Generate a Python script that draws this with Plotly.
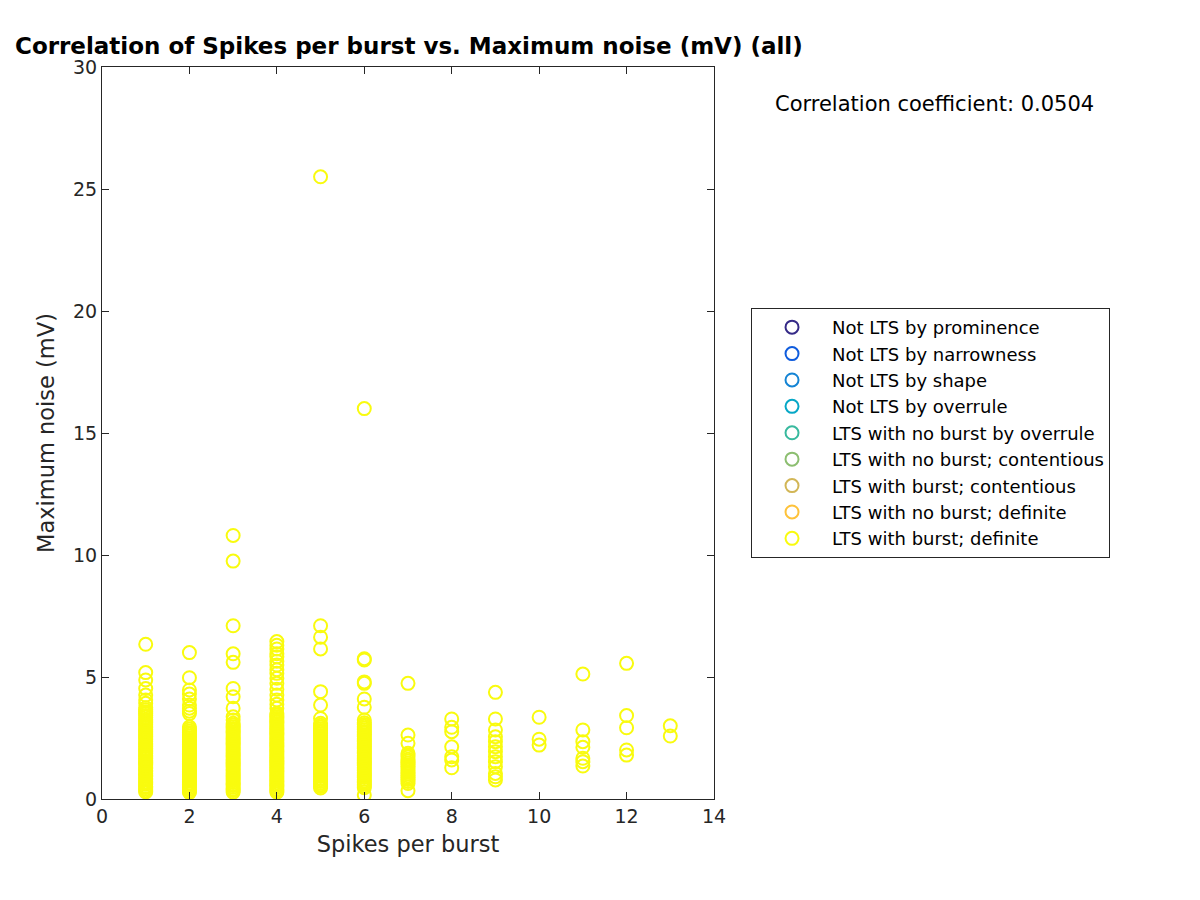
import plotly.graph_objects as go

# max noise (mV) for each spikes-per-burst value
noise_1 = [0.29, 0.34, 0.41, 0.47, 0.52, 0.6, 0.66, 0.71, 0.79, 0.85, 0.92, 0.98, 1.05, 1.12, 1.18,
           1.26, 1.31, 1.39, 1.45, 1.52, 1.58, 1.66, 1.73, 1.79, 1.86, 1.94, 2.01, 2.07, 2.15, 2.22,
           2.28, 2.36, 2.43, 2.5, 2.56, 2.63, 2.71, 2.78, 2.84, 2.92, 2.99, 3.06, 3.13, 3.2, 3.27,
           3.35, 3.42, 3.5, 3.58, 3.66, 3.74, 3.92, 4.06, 4.26, 4.53, 4.88, 5.18, 6.34]
noise_2 = [0.27, 0.33, 0.4, 0.46, 0.53, 0.59, 0.66, 0.73, 0.8, 0.86, 0.93, 1.0, 1.07, 1.13, 1.2,
           1.27, 1.34, 1.41, 1.47, 1.54, 1.61, 1.68, 1.75, 1.82, 1.88, 1.95, 2.02, 2.09, 2.16, 2.23,
           2.3, 2.37, 2.44, 2.51, 2.58, 2.65, 2.72, 2.79, 2.87, 2.95, 3.5, 3.6, 3.72, 3.85, 4.1,
           4.3, 4.47, 4.97, 6.0]
noise_3 = [0.28, 0.35, 0.41, 0.48, 0.55, 0.61, 0.68, 0.75, 0.82, 0.88, 0.95, 1.02, 1.09, 1.16, 1.22,
           1.29, 1.36, 1.43, 1.5, 1.57, 1.63, 1.7, 1.77, 1.84, 1.91, 1.98, 2.05, 2.12, 2.19, 2.26,
           2.33, 2.4, 2.47, 2.54, 2.61, 2.68, 2.75, 2.82, 2.89, 2.96, 3.03, 3.1, 3.24, 3.37, 3.72,
           4.19, 4.53, 5.6, 5.95, 7.1, 9.75, 10.8]
noise_4 = [0.28, 0.34, 0.4, 0.47, 0.54, 0.6, 0.67, 0.74, 0.81, 0.87, 0.94, 1.01, 1.08, 1.15, 1.21,
           1.28, 1.35, 1.42, 1.49, 1.56, 1.62, 1.69, 1.76, 1.83, 1.9, 1.97, 2.04, 2.11, 2.18, 2.25,
           2.32, 2.39, 2.46, 2.53, 2.6, 2.67, 2.74, 2.81, 2.88, 2.95, 3.02, 3.09, 3.16, 3.23, 3.3,
           3.37, 3.44, 3.51, 3.72, 3.88, 4.06, 4.26, 4.5, 4.74, 4.95, 5.15, 5.3, 5.49, 5.65, 5.83,
           5.95, 6.15, 6.3, 6.45]
noise_5 = [0.45, 0.51, 0.58, 0.65, 0.72, 0.79, 0.85, 0.92, 0.99, 1.06, 1.13, 1.2, 1.27, 1.34, 1.41,
           1.48, 1.55, 1.62, 1.69, 1.76, 1.83, 1.9, 1.97, 2.04, 2.11, 2.18, 2.25, 2.32, 2.39, 2.46,
           2.53, 2.6, 2.67, 2.74, 2.81, 2.88, 2.95, 3.02, 3.1, 3.3, 3.85, 4.4, 6.15, 6.63, 7.1, 25.5]
noise_6 = [0.16, 0.46, 0.53, 0.6, 0.67, 0.74, 0.81, 0.88, 0.95, 1.02, 1.09, 1.16, 1.23, 1.3, 1.37,
           1.44, 1.51, 1.58, 1.65, 1.72, 1.79, 1.86, 1.93, 2.0, 2.07, 2.14, 2.21, 2.28, 2.35, 2.42,
           2.49, 2.56, 2.63, 2.7, 2.77, 2.84, 2.91, 2.98, 3.05, 3.12, 3.24, 3.76, 4.1, 4.74, 4.8,
           5.7, 5.75, 16.0]
noise_7 = [0.34, 0.64, 0.72, 0.8, 0.88, 0.95, 1.03, 1.1, 1.18, 1.25, 1.33, 1.4, 1.48, 1.56, 1.63,
           1.72, 1.8, 1.87, 2.28, 2.62, 4.74]
noise_8 = [1.28, 1.6, 1.73, 2.14, 2.76, 2.94, 3.28]
noise_9 = [0.78, 0.91, 1.05, 1.32, 1.53, 1.73, 1.94, 2.14, 2.35, 2.55, 2.83, 3.28, 4.37]
noise_10 = [2.21, 2.45, 3.35]
noise_11 = [1.35, 1.53, 1.67, 2.12, 2.35, 2.83, 5.12]
noise_12 = [1.8, 2.01, 2.92, 3.42, 5.56]
noise_13 = [2.58, 3.0]

noise_by_spikes = [noise_1, noise_2, noise_3, noise_4, noise_5, noise_6, noise_7,
                   noise_8, noise_9, noise_10, noise_11, noise_12, noise_13]

classes = ["Not LTS by prominence", "Not LTS by narrowness", "Not LTS by shape",
           "Not LTS by overrule", "LTS with no burst by overrule",
           "LTS with no burst; contentious", "LTS with burst; contentious",
           "LTS with no burst; definite", "LTS with burst; definite"]
colors = ["#352A87", "#0F5CDD", "#1484D4", "#06A7C6", "#38B99E",
          "#8CBE70", "#D2B656", "#FEC23A", "#F9FB0E"]

corr_text = "Correlation coefficient: 0.0504"

spikes = []
noise = []
for n, vals in enumerate(noise_by_spikes, start=1):
    spikes += [n] * len(vals)
    noise += vals

fig = go.Figure()
for name, col in zip(classes, colors):
    if name == "LTS with burst; definite":
        xs, ys = spikes, noise
    else:
        xs, ys = [None], [None]
    fig.add_trace(go.Scatter(
        x=xs, y=ys, mode="markers", name=name,
        marker=dict(symbol="circle-open", size=13, color=col, line=dict(width=2, color=col)),
    ))

axis_style = dict(
    showline=True, mirror="ticks", linecolor="#262626", linewidth=1,
    ticks="inside", ticklen=7, tickcolor="#262626",
    showgrid=False, zeroline=False,
    tickfont=dict(size=19, color="#262626"),
)

# the page body adds an 8px offset, so the figure is 8px smaller on each side
fig.update_layout(
    width=1192, height=892,
    paper_bgcolor="white", plot_bgcolor="white",
    font=dict(family="DejaVu Sans", color="#262626"),
    margin=dict(l=94, r=486, t=59, b=101),
    title=dict(text="<b>Correlation of Spikes per burst vs. Maximum noise (mV) (all)</b>",
               xref="container", x=7 / 1192, xanchor="left",
               yref="container", y=1 - 38 / 892, yanchor="middle",
               font=dict(size=23, color="black")),
    xaxis=dict(range=[0, 14], tickvals=list(range(0, 15, 2)),
               title=dict(text="Spikes per burst", font=dict(size=22.5), standoff=10), **axis_style),
    yaxis=dict(range=[0, 30], tickvals=list(range(0, 31, 5)),
               title=dict(text="Maximum noise (mV)", font=dict(size=22.5), standoff=12), **axis_style),
    legend=dict(x=1.0605, y=0.6708, xanchor="left", yanchor="top",
                bgcolor="white", bordercolor="#262626", borderwidth=1,
                font=dict(size=18, color="black"), itemwidth=70, tracegroupgap=0),
    annotations=[dict(text=corr_text, xref="paper", yref="paper", x=1.361, y=0.949,
                      xanchor="center", yanchor="middle", showarrow=False,
                      font=dict(size=21, color="black"))],
)

fig.write_html("out.html")
